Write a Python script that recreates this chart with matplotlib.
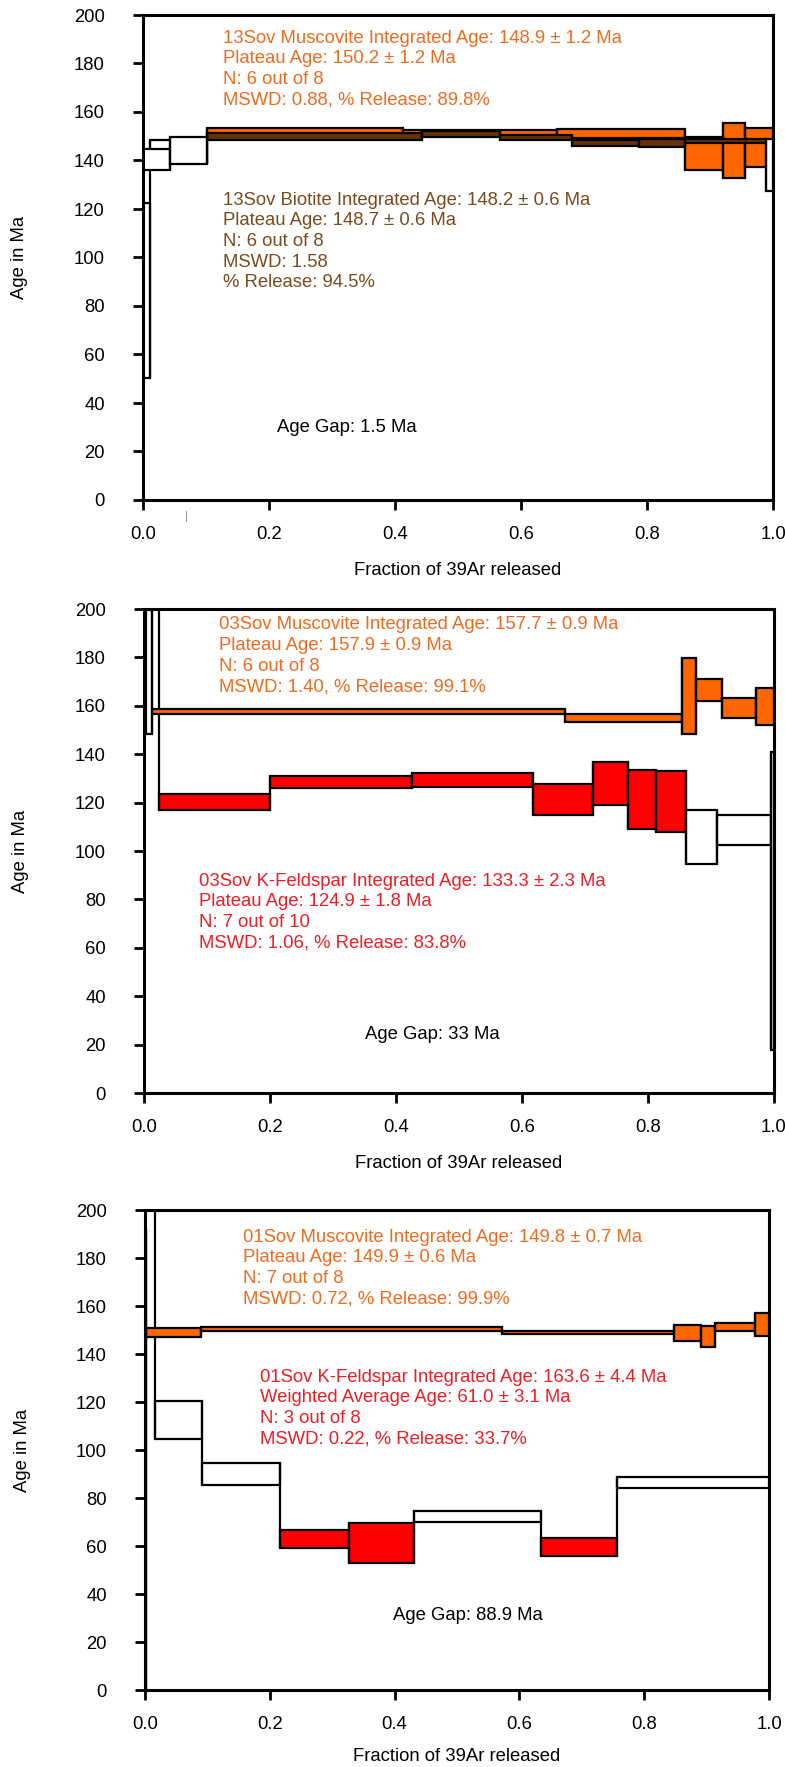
import numpy as np
import matplotlib.pyplot as plt

plt.rcParams['font.family'] = ['Liberation Sans', 'DejaVu Sans']

# --- 13Sov: muscovite and biotite step-heating spectra ---
mus13_edges = [0.0, 0.043, 0.102, 0.412, 0.657, 0.861, 0.921, 0.956, 1.0]
mus13_age = [140.4, 144.1, 152.0, 151.6, 151.0, 143.0, 144.0, 145.3]
mus13_err = [4.3, 5.7, 1.3, 1.0, 1.9, 6.8, 11.3, 7.9]
mus13_plateau = [0, 0, 1, 1, 1, 1, 1, 1]

bio13_edges = [0.0, 0.011, 0.102, 0.443, 0.567, 0.681, 0.787, 0.861, 0.989, 1.0]
bio13_age = [86.5, 143.7, 149.85, 150.9, 149.5, 147.25, 147.2, 147.9, 138.1]
bio13_err = [36.0, 4.7, 1.35, 1.1, 1.0, 1.25, 1.5, 0.8, 10.6]
bio13_plateau = [0, 0, 1, 1, 1, 1, 1, 1, 0]

# --- 03Sov: muscovite and K-feldspar ---
mus03_edges = [0.003, 0.012, 0.668, 0.854, 0.876, 0.917, 0.972, 1.0]
mus03_age = [199.1, 157.55, 155.0, 163.95, 166.65, 158.95, 159.65]
mus03_err = [50.9, 0.95, 1.6, 15.65, 4.55, 4.15, 7.55]
mus03_plateau = [0, 1, 1, 1, 1, 1, 1]

kfs03_edges = [0.0, 0.024, 0.2, 0.426, 0.618, 0.713, 0.769, 0.813, 0.860, 0.909, 0.996, 1.0]
kfs03_age = [250.0, 120.35, 128.55, 129.2, 121.35, 127.95, 121.3, 120.4, 105.75, 108.7, 79.4]
kfs03_err = [40.0, 3.25, 2.55, 2.9, 6.35, 8.95, 12.1, 12.6, 11.05, 6.2, 61.5]
kfs03_plateau = [0, 1, 1, 1, 1, 1, 1, 1, 0, 0, 0]

# --- 01Sov: muscovite and K-feldspar ---
mus01_edges = [0.0, 0.0015, 0.089, 0.572, 0.847, 0.891, 0.913, 0.978, 1.0]
mus01_age = [80.0, 148.85, 150.5, 149.0, 148.75, 147.25, 151.25, 152.35]
mus01_err = [111.7, 1.85, 0.9, 0.7, 3.35, 4.45, 1.55, 4.85]
mus01_plateau = [0, 1, 1, 1, 1, 1, 1, 1]

kfs01_edges = [0.003, 0.016, 0.092, 0.217, 0.327, 0.431, 0.634, 0.757, 1.0]
kfs01_age = [240.0, 112.5, 90.05, 63.0, 61.15, 72.4, 59.6, 86.45]
kfs01_err = [30.0, 7.9, 4.65, 3.8, 8.25, 2.3, 3.9, 2.15]
kfs01_plateau = [0, 0, 0, 1, 1, 0, 1, 0]

MUS_FILL, MUS_TEXT = '#FF6600', '#F06A1E'
BIO_FILL, BIO_TEXT = '#663300', '#7A4A1C'
KFS_FILL, KFS_TEXT = '#FF0000', '#EE1C24'

FS = 13.3
LW = 1.6


def spectrum(ax, edges, age, err, plateau, color, z_plat, z_excl):
    edges = np.asarray(edges)
    age = np.asarray(age)
    err = np.asarray(err)
    plat = np.asarray(plateau, dtype=bool)
    left = edges[:-1]
    width = np.diff(edges)
    lo, hi = age - err, age + err
    for mask, fc, z in ((plat, color, z_plat), (~plat, 'white', z_excl)):
        ax.bar(left[mask], 2 * err[mask], width=width[mask],
               bottom=lo[mask], align='edge',
               facecolor=fc, edgecolor='black', linewidth=LW, zorder=z)
    # risers joining neighbouring steps
    zs = np.where(plat, z_plat, z_excl)
    for i in range(1, len(age)):
        ax.vlines(edges[i], min(lo[i - 1], lo[i]), max(hi[i - 1], hi[i]),
                  colors='black', linewidth=LW, zorder=max(zs[i - 1], zs[i]) + 0.1)


def text_block(ax, x, y, lines, color):
    for i, line in enumerate(lines):
        ax.annotate(line, (x, y), xytext=(0, -14.9 * i),
                    textcoords='offset points', color=color,
                    fontsize=FS, ha='left', va='center', zorder=20)


def setup(ax, xlabel_y):
    ax.set_xlim(0, 1)
    ax.set_ylim(0, 200)
    ax.set_xticks(np.arange(0, 1.01, 0.2))
    ax.set_xticklabels(['%.1f' % v for v in np.arange(0, 1.01, 0.2)])
    ax.set_yticks(np.arange(0, 201, 20))
    ax.tick_params(direction='out', length=7.5, width=2.0, labelsize=FS)
    ax.tick_params(axis='x', pad=11)
    ax.tick_params(axis='y', pad=20)
    for s in ax.spines.values():
        s.set_linewidth(2.2)
        s.set_zorder(10)
    ax.set_xlabel('Fraction of 39Ar released', fontsize=FS)
    ax.set_ylabel('Age in Ma', fontsize=FS)
    ax.xaxis.set_label_coords(0.5, xlabel_y)
    ax.yaxis.set_label_coords(-0.182, 0.5)


W, H = 785, 1767
fig = plt.figure(figsize=(W / 100, H / 100), dpi=100)


def add_panel(left, right, top, bottom):
    return fig.add_axes([left / W, 1 - bottom / H, (right - left) / W, (bottom - top) / H])


# panel 1: 13Sov
ax1 = add_panel(143, 773, 15, 500)
spectrum(ax1, mus13_edges, mus13_age, mus13_err, mus13_plateau, MUS_FILL, 2, 4)
spectrum(ax1, bio13_edges, bio13_age, bio13_err, bio13_plateau, BIO_FILL, 3, 3)
setup(ax1, -0.127)
text_block(ax1, 0.127, 190.5, ['13Sov Muscovite Integrated Age: 148.9 ± 1.2 Ma',
                               'Plateau Age: 150.2 ± 1.2 Ma',
                               'N: 6 out of 8',
                               'MSWD: 0.88, % Release: 89.8%'], MUS_TEXT)
text_block(ax1, 0.127, 123.7, ['13Sov Biotite Integrated Age: 148.2 ± 0.6 Ma',
                               'Plateau Age: 148.7 ± 0.6 Ma',
                               'N: 6 out of 8',
                               'MSWD: 1.58',
                               '% Release: 94.5%'], BIO_TEXT)
ax1.text(0.213, 30, 'Age Gap: 1.5 Ma', fontsize=FS, ha='left', va='center')
ax1.plot([0.068, 0.068], [-4.5, -8.7], color='#999999', lw=0.8, clip_on=False)

# panel 2: 03Sov
ax2 = add_panel(144, 774, 609, 1093)
spectrum(ax2, kfs03_edges, kfs03_age, kfs03_err, kfs03_plateau, KFS_FILL, 2, 2)
spectrum(ax2, mus03_edges, mus03_age, mus03_err, mus03_plateau, MUS_FILL, 3, 3)
setup(ax2, -0.129)
text_block(ax2, 0.119, 193.4, ['03Sov Muscovite Integrated Age: 157.7 ± 0.9 Ma',
                               'Plateau Age: 157.9 ± 0.9 Ma',
                               'N: 6 out of 8',
                               'MSWD: 1.40, % Release: 99.1%'], MUS_TEXT)
text_block(ax2, 0.087, 87.6, ['03Sov K-Feldspar Integrated Age: 133.3 ± 2.3 Ma',
                              'Plateau Age: 124.9 ± 1.8 Ma',
                              'N: 7 out of 10',
                              'MSWD: 1.06, % Release: 83.8%'], KFS_TEXT)
ax2.text(0.351, 24, 'Age Gap: 33 Ma', fontsize=FS, ha='left', va='center')

# panel 3: 01Sov
ax3 = add_panel(145, 769, 1210, 1690)
spectrum(ax3, kfs01_edges, kfs01_age, kfs01_err, kfs01_plateau, KFS_FILL, 2, 2)
spectrum(ax3, mus01_edges, mus01_age, mus01_err, mus01_plateau, MUS_FILL, 3, 3)
setup(ax3, -0.121)
text_block(ax3, 0.157, 188.75, ['01Sov Muscovite Integrated Age: 149.8 ± 0.7 Ma',
                                'Plateau Age: 149.9 ± 0.6 Ma',
                                'N: 7 out of 8',
                                'MSWD: 0.72, % Release: 99.9%'], MUS_TEXT)
text_block(ax3, 0.184, 130.4, ['01Sov K-Feldspar Integrated Age: 163.6 ± 4.4 Ma',
                               'Weighted Average Age: 61.0 ± 3.1 Ma',
                               'N: 3 out of 8',
                               'MSWD: 0.22, % Release: 33.7%'], KFS_TEXT)
ax3.text(0.397, 31, 'Age Gap: 88.9 Ma', fontsize=FS, ha='left', va='center')

fig.savefig('out.png', dpi=100)
